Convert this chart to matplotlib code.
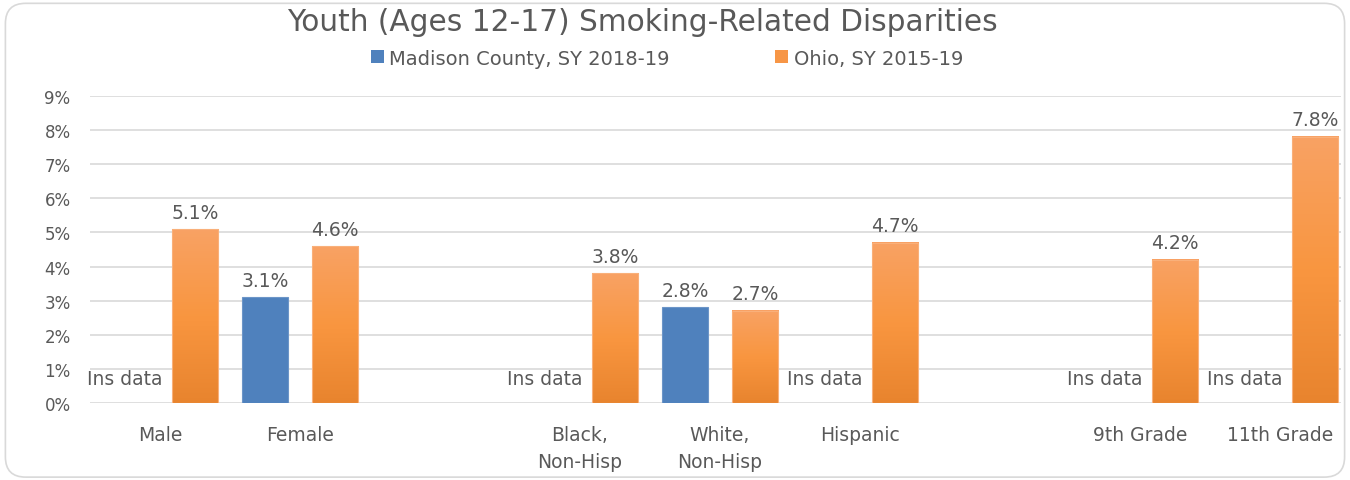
import matplotlib
matplotlib.use("Agg")
import matplotlib.pyplot as plt
import numpy as np
from matplotlib.colors import LinearSegmentedColormap
from matplotlib.patches import FancyBboxPatch

plt.rcParams["font.family"] = ["DejaVu Sans"]

categories = ["Male", "Female", "", "Black,\nNon-Hisp", "White,\nNon-Hisp", "Hispanic",
              "", "9th Grade", "11th Grade"]
# None = "Ins data", nan = empty slot
madison = [None, 3.1, np.nan, None, 2.8, None, np.nan, None, None]
ohio = [5.1, 4.6, np.nan, 3.8, 2.7, 4.7, np.nan, 4.2, 7.8]
series_names = ["Madison County, SY 2018-19", "Ohio, SY 2015-19"]

TXT = "#595959"
BLUE = "#4F81BD"
orange_cmap = LinearSegmentedColormap.from_list("og", ["#E8842E", "#F99640", "#F8A264"])

fig = plt.figure(figsize=(13.5, 4.81), dpi=100)
frame = FancyBboxPatch((0.004, 0.006), 0.992, 0.985, boxstyle="round,pad=0,rounding_size=0.015",
                       transform=fig.transFigure, facecolor="white",
                       edgecolor="#D9D9D9", linewidth=1.2, mutation_aspect=2.8, zorder=-1)
fig.add_artist(frame)

ax = fig.add_axes([90 / 1350, 77 / 481, 1251 / 1350, 307 / 481])
ax.patch.set_visible(False)
w = 0.335
off = 0.25

x = np.arange(len(categories))
for i in x:
    m = madison[i]
    o = ohio[i]
    if np.isnan(o):
        continue
    # Madison
    if m is None:
        ax.text(i - off, 0.73, "Ins data", ha="center", va="center", fontsize=13.5, color=TXT)
    else:
        ax.bar(i - off, m, width=w, color=BLUE, edgecolor="#6C95C8", linewidth=0.8, zorder=3)
        ax.text(i - off, m + 0.22, f"{m:.1f}%", ha="center", va="bottom", fontsize=13.5, color=TXT)
    # Ohio with vertical gradient
    grad = np.linspace(0, 1, 256).reshape(-1, 1)
    ax.imshow(grad, extent=(i + off - w / 2, i + off + w / 2, 0, o), origin="lower",
              cmap=orange_cmap, aspect="auto", zorder=3)
    ax.bar(i + off, o, width=w, facecolor="none", edgecolor="#F9B07A", linewidth=0.8, zorder=4)
    ax.text(i + off, o + 0.22, f"{o:.1f}%", ha="center", va="bottom", fontsize=13.5, color=TXT)

ax.set_xlim(-0.5, -0.5 + 1251 / 140)
ax.set_ylim(0, 9)
ax.set_yticks(range(0, 10))
ax.set_yticklabels([f"{v}%" for v in range(0, 10)])
ax.set_xticks(x)
ax.set_xticklabels(categories, linespacing=1.55, va="top", fontsize=13.5)
ax.tick_params(axis="both", length=0, labelcolor=TXT)
ax.tick_params(axis="y", labelsize=12, pad=14)
ax.tick_params(axis="x", pad=16)
ax.grid(axis="y", color="#D9D9D9", linewidth=1.2, zorder=0)
ax.set_axisbelow(True)
for s in ax.spines.values():
    s.set_visible(False)

fig.text(0.476, 0.954, "Youth (Ages 12-17) Smoking-Related Disparities", ha="center", va="center",
         fontsize=21.3, color=TXT)

h1 = plt.Rectangle((0, 0), 1, 1, facecolor=BLUE)
h2 = plt.Rectangle((0, 0), 1, 1, facecolor="#F79646")
fig.legend([h1, h2], series_names, loc="center", bbox_to_anchor=(0.494, 0.877), ncol=2,
           frameon=False, fontsize=14, labelcolor=TXT, handlelength=0.67, handleheight=0.67,
           handletextpad=0.3, columnspacing=5.4, borderpad=0, borderaxespad=0)

fig.savefig("out.png", dpi=100)
